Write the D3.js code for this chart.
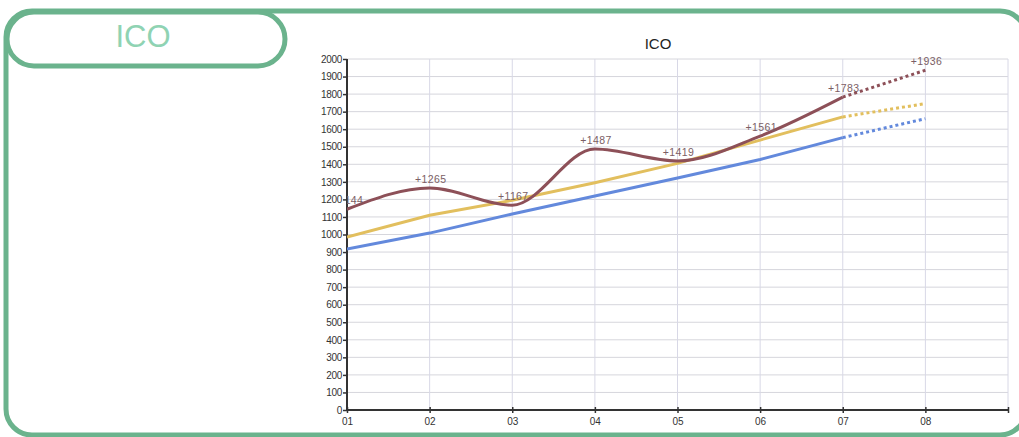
<!DOCTYPE html>
<html><head><meta charset="utf-8">
<script src="https://cdn.jsdelivr.net/npm/d3@7"></script>
<style>body{margin:0;background:#fff;}svg{display:block;font-family:"Liberation Sans",Arial,sans-serif;}</style>
</head><body><svg id="c" width="1019" height="437"></svg>
<script>
const categories = ["01","02","03","04","05","06","07","08"];
const actualValues = [1144,1265,1167,1487,1419,1561,1783,1936];
const trendValues = [986,1110,1195,1295,1405,1538,1670,1746];
const baseValues = [917,1008,1117,1219,1322,1427,1552,1660];
const yTicks = [0,100,200,300,400,500,600,700,800,900,1000,1100,1200,1300,1400,1500,1600,1700,1800,1900,2000];
const chartTitle = "ICO";
const panelTitle = "ICO";

(function(){
const svg = d3.select("#c");
const green = "#6bb38d";

// frame
svg.append("rect").attr("x",6).attr("y",11).attr("width",1020).attr("height",424)
  .attr("rx",26).attr("fill","none").attr("stroke",green).attr("stroke-width",5);
svg.append("rect").attr("x",7).attr("y",12).attr("width",278).attr("height",54)
  .attr("rx",27).attr("fill","#fff").attr("stroke",green).attr("stroke-width",5);
svg.append("text").attr("x",143).attr("y",47).attr("text-anchor","middle")
  .attr("font-size",31).attr("fill","#8fd3b3").text(panelTitle);

const pL=347, pR=1008, pT=59, pB=410;
const x = d3.scaleLinear().domain([0,categories.length]).range([pL,pR]);
const y = d3.scaleLinear().domain([0,2000]).range([pB,pT]);

svg.append("text").attr("x",658).attr("y",49).attr("text-anchor","middle")
  .attr("font-size",15).attr("fill","#222").text(chartTitle);

// grid
const g = svg.append("g");
g.selectAll("line.h").data(yTicks.slice(1)).join("line")
  .attr("x1",pL).attr("x2",pR).attr("y1",d=>y(d)).attr("y2",d=>y(d))
  .attr("stroke","#d6d6dc").attr("stroke-width",1);
g.selectAll("line.v").data(d3.range(1,categories.length+1)).join("line")
  .attr("x1",d=>x(d)).attr("x2",d=>x(d)).attr("y1",pT).attr("y2",pB)
  .attr("stroke","#d8d8e6").attr("stroke-width",1);

// axes
const yAxis = d3.axisLeft(y).tickValues(yTicks).tickFormat(d3.format("d")).tickSize(4).tickPadding(1);
const ya = svg.append("g").attr("transform",`translate(${pL},0)`).call(yAxis);
const xAxis = d3.axisBottom(x).tickValues(d3.range(0,categories.length+1)).tickSize(3)
  .tickFormat(i=>categories[i]||"").tickPadding(5);
const xa = svg.append("g").attr("transform",`translate(0,${pB})`).call(xAxis);
[ya,xa].forEach(a=>{
  a.select(".domain").attr("stroke","#333").attr("stroke-width",2);
  a.selectAll(".tick line").attr("stroke","#333").attr("stroke-width",1.5);
  a.selectAll(".tick text").attr("font-size",10).attr("fill","#333").attr("font-family","Liberation Sans, Arial, sans-serif");
});
ya.selectAll(".tick text").attr("letter-spacing",-0.3);
ya.select(".domain").attr("d",`M0,${pT}V${pB}`);
xa.select(".domain").attr("d",`M${pL},0H${pR}`);
xa.selectAll(".tick line").attr("y1",-3).attr("y2",3);

// clip
svg.append("clipPath").attr("id","clip").append("rect")
  .attr("x",pL).attr("y",0).attr("width",pR-pL+20).attr("height",pB);

const series = [
  {vals: baseValues, color:"#6389dc", curve:d3.curveLinear},
  {vals: trendValues, color:"#e2bf5e", curve:d3.curveLinear},
  {vals: actualValues, color:"#8d5058", curve:d3.curveMonotoneX}
];
const plot = svg.append("g").attr("clip-path","url(#clip)");
const last = categories.length-1;
series.forEach(s=>{
  const pts = s.vals.map((v,i)=>[x(i),y(v)]);
  const line = d3.line().curve(s.curve);
  plot.append("path").attr("d",line(pts.slice(0,last))).attr("fill","none")
    .attr("stroke",s.color).attr("stroke-width",3);
  plot.append("path").attr("d",d3.line()(pts.slice(last-1))).attr("fill","none")
    .attr("stroke",s.color).attr("stroke-width",3).attr("stroke-dasharray","3,3");
});

// labels
plot.selectAll("text.lab").data(actualValues).join("text")
  .attr("x",(d,i)=>x(i)+1).attr("y",d=>y(d)-5).attr("text-anchor","middle")
  .attr("font-size",10.5).attr("fill","#7b5e64").attr("letter-spacing",0.4)
  .text(d=>"+"+d);
})();
</script></body></html>
